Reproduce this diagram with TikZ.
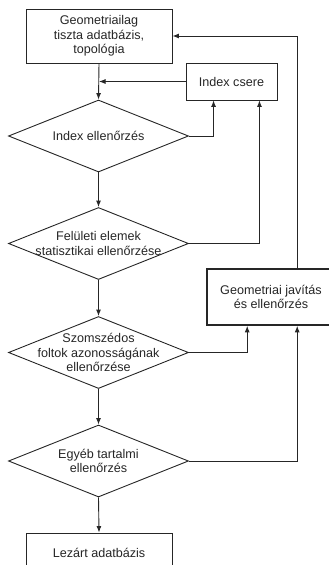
\documentclass[tikz,border=0pt]{standalone}
\usepackage{fontspec}
\setmainfont{Liberation Sans}
\usetikzlibrary{shapes.geometric,arrows.meta}
\begin{document}
\begin{tikzpicture}[x=1pt,y=-1pt,
    flow/.style={draw=black!85, line width=0.9pt, -{Latex[length=6.5pt,width=5pt]}},
    doboz/.style={draw=black!85, line width=0.9pt, rectangle, inner sep=0pt},
    dontes/.style={draw=black!85, line width=0.9pt, diamond, inner sep=0pt, minimum width=180pt, minimum height=72pt},
    felirat/.style={align=center, text=black!85, inner sep=0pt, font=\fontsize{12.6}{14.6}\selectfont}]
    \useasboundingbox (0,0) rectangle (329,565);
    \clip (0,0) rectangle (329,565);
			    \node[doboz, minimum width=146pt, minimum height=54pt] (geo) at (99,36) {};
			    \node[felirat] (geot) at (geo) {Geometriailag\\tiszta adatbázis,\\topológia};
		    	\node[doboz, minimum width=91pt, minimum height=37pt] (csere) at (231.5,81.5) {};
		    	\node[felirat] (cseret) at (csere) {Index csere};
		    	\node[dontes] (d1) at (98.5,136) {};
		    	\node[felirat] (d1t) at (d1) {Index ellenőrzés};
		    	\node[dontes] (d2) at (98.5,243.5) {};
		    	\node[felirat] (d2t) at (d2) {Felületi elemek\\statisztikai ellenőrzése};
		    	\node[doboz, line width=1.6pt, minimum width=128pt, minimum height=56pt] (jav) at (271,297) {};
		    	\node[felirat] (javt) at (jav) {Geometriai javítás\\és ellenőrzés};
		    	\node[dontes] (d3) at (98.5,352.5) {};
		    	\node[felirat] (d3t) at (d3) {Szomszédos\\foltok azonosságának\\ellenőrzése};
		    	\node[dontes] (d4) at (98.5,461) {};
		    	\node[felirat] (d4t) at (d4) {Egyéb tartalmi\\ellenőrzés};
		    	\node[doboz, minimum width=146pt, minimum height=40pt] (zart) at (99,553) {};
		    	\node[felirat] (zartt) at (zart) {Lezárt adatbázis};
		    	
		    	\draw[flow] (geo.south) -- (d1.north);
		    	\draw[flow] (csere.west) -- (csere.west -| geo.south);
		    	\draw[flow] (d1.south) -- (d2.north);
		    	\draw[flow] (d2.south) -- (d3.north);
		    	\draw[flow] (d3.south) -- (d4.north);
		    	\draw[flow] (d4.south) -- (zart.north);
		    	\draw[flow] (d1.east) -| ([xshift=28pt]csere.south west);
		    	\draw[flow] (d2.east) -| ([xshift=-18pt]csere.south east);
	    	    \draw[flow] (d3.east) -| ([xshift=41pt]jav.south west);
	    	    \draw[flow] (d4.east) -| ([xshift=91pt]jav.south west);
	    	    \draw[flow] ([xshift=91pt]jav.north west) |- (geo.east);
		    \end{tikzpicture}
\end{document}
